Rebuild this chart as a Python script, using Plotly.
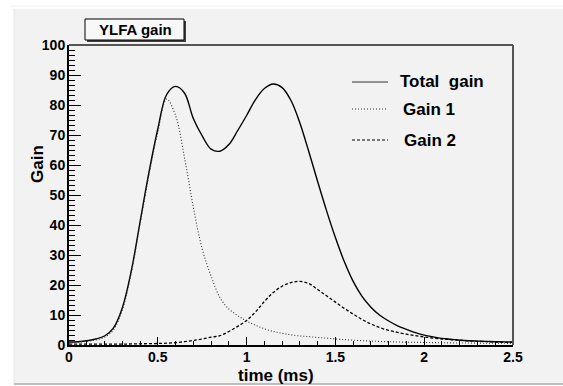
import plotly.graph_objects as go

# ---- data ----
time_ms = [0.00, 0.05, 0.10, 0.15, 0.20, 0.25, 0.30, 0.35, 0.40, 0.45,
           0.50, 0.55, 0.60, 0.65, 0.70, 0.75, 0.80, 0.85, 0.90, 0.95,
           1.00, 1.05, 1.10, 1.15, 1.20, 1.25, 1.30, 1.35, 1.40, 1.45,
           1.50, 1.55, 1.60, 1.65, 1.70, 1.75, 1.80, 1.85, 1.90, 1.95,
           2.00, 2.05, 2.10, 2.15, 2.20, 2.25, 2.30, 2.35, 2.40, 2.45, 2.50]

total_gain = [1.0, 1.1, 1.4, 2.0, 3.0, 5.6, 12.3, 24.5, 41.0, 57.5,
              72.0, 83.5, 86.2, 84.0, 75.5, 69.7, 65.3, 64.6, 66.8, 71.5,
              76.5, 81.8, 85.5, 87.0, 85.8, 81.5, 74.0, 64.5, 54.5, 44.8,
              35.8, 27.8, 21.2, 16.2, 12.6, 9.9, 8.0, 6.4, 5.2, 4.1,
              3.3, 2.7, 2.2, 1.9, 1.6, 1.4, 1.3, 1.2, 1.1, 1.05, 1.0]

gain_1 = [0.7, 0.9, 1.2, 1.7, 2.6, 5.0, 11.6, 23.8, 40.2, 56.6,
          71.0, 82.0, 76.5, 62.5, 46.0, 32.0, 23.0, 15.8, 12.0, 9.8,
          8.0, 6.6, 5.4, 4.5, 3.9, 3.4, 3.0, 2.8, 2.5, 2.3,
          2.0, 1.8, 1.6, 1.45, 1.3, 1.2, 1.1, 1.0, 0.95, 0.9,
          0.85, 0.8, 0.75, 0.7, 0.68, 0.65, 0.62, 0.6, 0.58, 0.56, 0.55]

gain_2 = [0.3, 0.3, 0.3, 0.3, 0.3, 0.3, 0.3, 0.35, 0.4, 0.45,
          0.5, 0.6, 0.8, 1.1, 1.5, 2.0, 2.6, 3.1, 4.5, 6.2,
          8.2, 11.0, 14.5, 17.5, 19.6, 20.8, 21.2, 20.5, 18.5, 16.4,
          14.3, 12.2, 10.3, 8.5, 7.0, 5.8, 4.9, 4.2, 3.6, 3.1,
          2.7, 2.3, 2.0, 1.8, 1.6, 1.4, 1.25, 1.1, 1.0, 0.9, 0.85]

legend_names = ["Total  gain", "Gain 1", "Gain 2"]
chart_title = "YLFA gain"
x_title = "time (ms)"
y_title = "Gain"

# ---- figure ----
W, H = 563, 386
L, R, T, B = 69, 50, 45, 41
PW, PH = W - L - R, H - T - B


def px_x(p):
    return (p - L) / PW


def px_y(p):
    return (H - B - p) / PH


FONT = "Liberation Sans, Arial, Helvetica, sans-serif"
BG = "#f2f2f2"

fig = go.Figure()
fig.add_trace(go.Scatter(x=time_ms, y=total_gain, mode="lines", name=legend_names[0],
                         line=dict(color="black", width=1.4, shape="spline", smoothing=1.0)))
fig.add_trace(go.Scatter(x=time_ms, y=gain_1, mode="lines", name=legend_names[1],
                         line=dict(color="#333333", width=1.1, dash="1px,2px",
                                   shape="spline", smoothing=1.0)))
fig.add_trace(go.Scatter(x=time_ms, y=gain_2, mode="lines", name=legend_names[2],
                         line=dict(color="black", width=1.3, dash="3px,2px",
                                   shape="spline", smoothing=1.0)))

shapes = []
# grey canvas panel with white surround
shapes.append(dict(type="rect", xref="paper", yref="paper", layer="below",
                   x0=px_x(14), x1=px_x(566), y0=px_y(383), y1=px_y(9),
                   fillcolor=BG, line=dict(width=0)))
shapes.append(dict(type="line", xref="paper", yref="paper", layer="below",
                   x0=px_x(14), x1=px_x(566), y0=px_y(384), y1=px_y(384),
                   line=dict(color="#bdbdbd", width=2)))
shapes.append(dict(type="line", xref="paper", yref="paper", layer="below",
                   x0=px_x(10), x1=px_x(566), y0=px_y(6), y1=px_y(6),
                   line=dict(color="#f0f0f0", width=1)))
shapes.append(dict(type="line", xref="paper", yref="paper", layer="below",
                   x0=px_x(14), x1=px_x(14), y0=px_y(383), y1=px_y(9),
                   line=dict(color="#e6e6e6", width=1)))
# top and right frame lines
shapes.append(dict(type="line", xref="paper", yref="paper", x0=0, x1=1, y0=1, y1=1,
                   line=dict(color="#555555", width=2)))
shapes.append(dict(type="line", xref="paper", yref="paper", x0=1, x1=1, y0=0, y1=1,
                   line=dict(color="#555555", width=2)))
# title box with shadow
shapes.append(dict(type="rect", xref="paper", yref="paper",
                   x0=px_x(87), x1=px_x(186), y0=px_y(42), y1=px_y(21),
                   fillcolor="#444444", line=dict(width=0)))
shapes.append(dict(type="rect", xref="paper", yref="paper",
                   x0=px_x(85), x1=px_x(184), y0=px_y(40), y1=px_y(19),
                   fillcolor="#f8f8f8", line=dict(color="black", width=1)))

# legend samples
legend_rows = [82, 109, 140]
legend_dash = ["solid", "1px,2px", "3px,2px"]
legend_col = ["#333333", "#333333", "black"]
legend_w = [1.2, 1.0, 1.0]
for yy, dd, cc, ww in zip(legend_rows, legend_dash, legend_col, legend_w):
    shapes.append(dict(type="line", xref="paper", yref="paper",
                       x0=px_x(352), x1=px_x(388), y0=px_y(yy), y1=px_y(yy),
                       line=dict(color=cc, width=ww, dash=dd)))

annotations = []
annotations.append(dict(x=px_x(135), y=px_y(30), xref="paper", yref="paper",
                        text="<b>%s</b>" % chart_title, showarrow=False,
                        font=dict(family=FONT, size=15, color="black"),
                        xanchor="center", yanchor="middle"))
legend_x = [398, 401, 402]
for name, yy, xx in zip(legend_names, legend_rows, legend_x):
    annotations.append(dict(x=px_x(xx), y=px_y(yy), xref="paper", yref="paper",
                            text="<b>%s</b>" % name, showarrow=False,
                            font=dict(family=FONT, size=17, color="black"),
                            xanchor="left", yanchor="middle"))
annotations.append(dict(x=px_x(276), y=px_y(375), xref="paper", yref="paper",
                        text="<b>%s</b>" % x_title, showarrow=False,
                        font=dict(family=FONT, size=17, color="black"),
                        xanchor="center", yanchor="middle"))
annotations.append(dict(x=px_x(37), y=px_y(164), xref="paper", yref="paper",
                        text="<b>%s</b>" % y_title, showarrow=False, textangle=-90,
                        font=dict(family=FONT, size=17, color="black"),
                        xanchor="center", yanchor="middle"))

fig.update_layout(
    width=W, height=H,
    margin=dict(l=L, r=R, t=T, b=B, pad=0),
    paper_bgcolor="white",
    plot_bgcolor="rgba(0,0,0,0)",
    showlegend=False,
    shapes=shapes,
    annotations=annotations,
    font=dict(family=FONT, size=14, color="black"),
    xaxis=dict(range=[0, 2.5], showgrid=False, zeroline=False,
               showline=True, linecolor="black", linewidth=2,
               ticks="inside", ticklen=8, tickwidth=1.2, tickcolor="black",
               tick0=0, dtick=0.5, ticklabelstandoff=-2,
               tickfont=dict(family=FONT, size=14, color="black", weight="bold"),
               minor=dict(ticks="inside", ticklen=4, tickwidth=1, tickcolor="black",
                          dtick=0.1, showgrid=False)),
    yaxis=dict(range=[0, 100], showgrid=False, zeroline=False,
               showline=True, linecolor="black", linewidth=2,
               ticks="inside", ticklen=12, tickwidth=1.2, tickcolor="black",
               tick0=0, dtick=10, ticklabelstandoff=-1,
               tickfont=dict(family=FONT, size=14, color="black", weight="bold"),
               minor=dict(ticks="inside", ticklen=6, tickwidth=1, tickcolor="black",
                          dtick=10 / 6, showgrid=False)),
)

fig.write_html("out.html")
